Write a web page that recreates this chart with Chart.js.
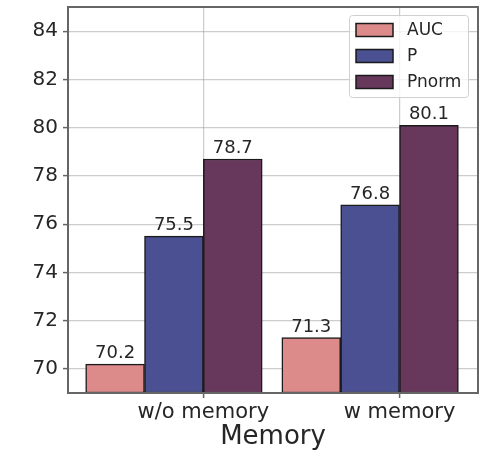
<!DOCTYPE html>
<html>
<head>
<meta charset="utf-8">
<script src="https://cdn.jsdelivr.net/npm/chart.js@4/dist/chart.umd.min.js"></script>
<style>
  html, body { margin: 0; padding: 0; background: #fff; }
  #wrap { width: 482px; height: 453px; position: relative; }
</style>
</head>
<body>
<div id="wrap"><canvas id="c" width="482" height="453"></canvas></div>
<script>
// ---- data ----
const categories = ['w/o memory', 'w memory'];
const seriesNames = ['AUC', 'P', 'Pnorm'];
const aucValues = [70.2, 71.3];
const pValues = [75.5, 76.8];
const pnormValues = [78.7, 80.1];
const yTicks = [70, 72, 74, 76, 78, 80, 82, 84];
const xTitle = 'Memory';

// ---- styling / layout ----
const yMin = 69, yMax = 85;
const xMin = -0.69, xMax = 1.40;
const barOffsets = [-0.45, -0.15, 0.15];
const colors = ['#dc8a8a', '#4a5091', '#68385c'];
const FONT = "'DejaVu Sans', sans-serif";
const TEXT = '#262626';

const seriesValues = [aucValues, pValues, pnormValues];
const datasets = seriesNames.map((name, s) => ({
  label: name,
  data: categories.map((c, i) => ({ x: i + barOffsets[s], y: seriesValues[s][i] })),
  backgroundColor: colors[s],
  borderColor: '#1a1a1a',
  borderWidth: 1.5,
  borderSkipped: false,
  base: yMin,
  grouped: false,
  barPercentage: 1,
  categoryPercentage: 1
}));

const valueLabels = {
  id: 'valueLabels',
  afterDatasetsDraw(chart) {
    const ctx = chart.ctx;
    ctx.save();
    ctx.font = '18px ' + FONT;
    ctx.fillStyle = TEXT;
    ctx.textAlign = 'center';
    ctx.textBaseline = 'alphabetic';
    chart.data.datasets.forEach((ds, di) => {
      const meta = chart.getDatasetMeta(di);
      meta.data.forEach((el, i) => {
        ctx.fillText(ds.data[i].y.toFixed(1), el.x, el.y - 6);
      });
    });
    ctx.restore();
  }
};

const frame = {
  id: 'frame',
  afterDatasetsDraw(chart) {
    const a = chart.chartArea, ctx = chart.ctx;
    ctx.save();
    ctx.strokeStyle = '#666';
    ctx.lineWidth = 2;
    ctx.strokeRect(a.left, a.top, a.right - a.left, a.bottom - a.top);
    ctx.restore();
  }
};

const innerLegend = {
  id: 'innerLegend',
  afterDraw(chart) {
    const ctx = chart.ctx;
    const bx = 349, by = 15, bw = 119, bh = 82;
    ctx.save();
    ctx.fillStyle = 'rgba(255,255,255,0.8)';
    ctx.strokeStyle = '#d0d0d0';
    ctx.lineWidth = 1;
    ctx.beginPath();
    ctx.roundRect(bx + 0.5, by + 0.5, bw, bh, 3);
    ctx.fill();
    ctx.stroke();
    ctx.font = '17px ' + FONT;
    ctx.textBaseline = 'middle';
    ctx.textAlign = 'left';
    chart.data.datasets.forEach((ds, i) => {
      const cy = 30 + i * 26;
      ctx.fillStyle = ds.backgroundColor;
      ctx.fillRect(356, cy - 6.5, 37, 13);
      ctx.strokeStyle = '#1a1a1a';
      ctx.lineWidth = 1.5;
      ctx.strokeRect(356, cy - 6.5, 37, 13);
      ctx.fillStyle = TEXT;
      ctx.fillText(ds.label, 407, cy + 1);
    });
    ctx.restore();
  }
};

new Chart(document.getElementById('c'), {
  type: 'bar',
  data: { datasets },
  options: {
    responsive: false,
    animation: false,
    events: [],
    layout: { padding: { top: 7, right: 4, left: 0, bottom: 0 } },
    plugins: { legend: { display: false }, tooltip: { enabled: false } },
    scales: {
      x: {
        type: 'linear',
        offset: false,
        min: xMin, max: xMax,
        afterBuildTicks: (s) => { s.ticks = categories.map((c, i) => ({ value: i })); },
        afterFit: (s) => { s.height = 60; s.paddingLeft = 0; s.paddingRight = 0; },
        ticks: {
          callback: (v) => categories[v],
          font: { family: FONT, size: 21 },
          color: TEXT,
          padding: 2,
          maxRotation: 0,
          autoSkip: false
        },
        grid: { offset: false, color: 'rgba(170,170,170,0.6)', lineWidth: 1.2, tickLength: 5, tickColor: '#666', tickWidth: 1.5 },
        border: { display: false },
        title: { display: true, text: xTitle, font: { family: FONT, size: 26 }, color: TEXT, padding: { top: 0, bottom: 0 } }
      },
      y: {
        min: yMin, max: yMax,
        afterBuildTicks: (s) => { s.ticks = yTicks.map(v => ({ value: v })); },
        afterFit: (s) => { s.width = 68; s.paddingTop = 0; s.paddingBottom = 0; },
        ticks: { font: { family: FONT, size: 20 }, color: TEXT, padding: 5 },
        grid: { color: 'rgba(170,170,170,0.6)', lineWidth: 1.2, tickLength: 5, tickColor: '#666', tickWidth: 1.5 },
        border: { display: false }
      }
    }
  },
  plugins: [valueLabels, frame, innerLegend]
});
</script>
</body>
</html>
